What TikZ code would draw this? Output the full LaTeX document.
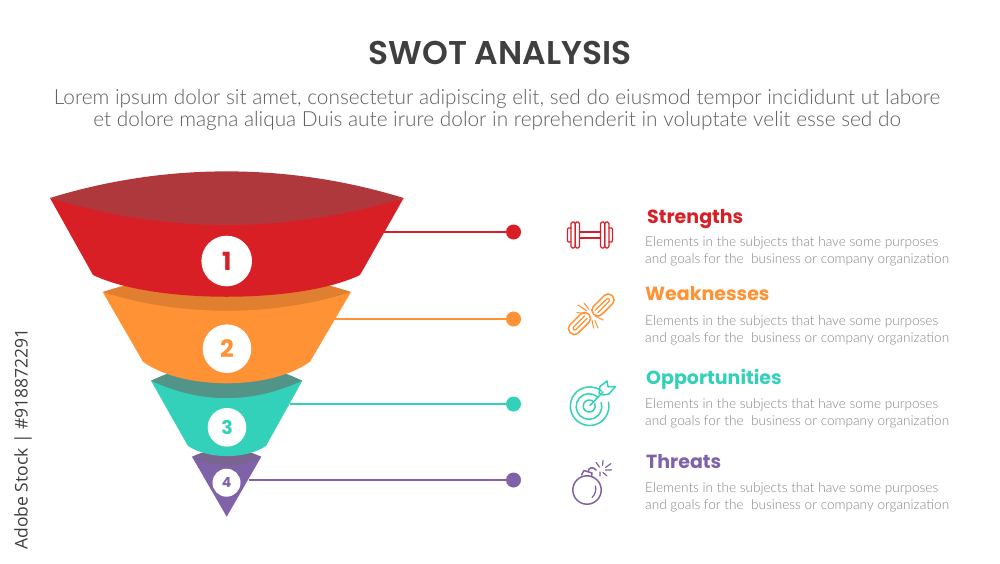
\documentclass[tikz,border=0pt]{standalone}
\usepackage{fontspec}
\newfontfamily\popf{Poppins}
\newfontfamily\popt{Poppins SemiBold}
\newfontfamily\latof{Lato Light}
\newfontfamily\sidef{Open Sans}
\definecolor{cred}{HTML}{D91F26}\definecolor{dred}{HTML}{AF383D}
\definecolor{corg}{HTML}{FF9234}\definecolor{dorg}{HTML}{E07F2F}
\definecolor{cteal}{HTML}{33D1B9}\definecolor{dteal}{HTML}{529488}
\definecolor{cpur}{HTML}{7F62A8}\definecolor{dpur}{HTML}{7A6490}
\definecolor{ctitle}{HTML}{3F3F3F}\definecolor{csub}{HTML}{5E5E5E}\definecolor{cbody}{HTML}{858585}
\tikzset{
 x=1pt,y=-1pt,
 badge/.style={circle,fill=white,inner sep=0pt,font=\popf\bfseries},
 dot/.style={circle,inner sep=0pt,minimum size=15pt},
 head/.style={anchor=base west,inner sep=0pt,font=\popf\bfseries\fontsize{19}{19}\selectfont},
 body/.style={anchor=north west,inner sep=0pt,align=left,text=cbody,font=\latof\fontsize{13.6}{17}\selectfont},
 icon/.style={line width=1.5pt,line cap=round,line join=round},
 link/.style={line width=1.4pt}
}
\begin{document}
\begin{tikzpicture}
\useasboundingbox (0,0) rectangle (1000,563);
\fill[white] (0,0) rectangle (1000,563);
\node[inner sep=0pt,text=ctitle,font=\popt\fontsize{32.9}{33}\selectfont] (title) at (500,52.5) {SWOT ANALYSIS};
\node[inner sep=0pt,text=csub,align=center,font=\latof\fontsize{20.8}{22}\selectfont] (sub) at (497,109.5) {Lorem ipsum dolor sit amet, consectetur adipiscing elit, sed do eiusmod tempor incididunt ut labore\\et dolore magna aliqua Duis aute irure dolor in reprehenderit in voluptate velit esse sed do};
\node[rotate=90,inner sep=0pt,text=ctitle,anchor=center,font=\sidef\fontsize{17.5}{18}\selectfont] (stock) at (23,439) {Adobe Stock | \#918872291};
% purple
\fill[dpur] (192,456.7) .. controls (215,446) and (238,446) .. (261.3,456.7) -- (226.7,480) -- cycle;
\fill[cpur] (192,456.7) .. controls (215,468.5) and (238,468.5) .. (261.3,456.7) -- (226.7,516.7) -- cycle;
% teal
\fill[dteal] (151,380.7) .. controls (200,357) and (253,357) .. (302.3,380.7) -- (227,430) -- cycle;
\fill[cteal] (151,380.7) .. controls (200,404) and (253,404) .. (302.3,380.7) -- (266,446) .. controls (245,459.5) and (209,459.5) .. (188,446) -- cycle;
% orange
\fill[dorg] (102.7,292) .. controls (180,266) and (273,266) .. (351,292) -- (227,350) -- cycle;
\fill[corg] (102.7,292) .. controls (180,317) and (273,317) .. (351,292) -- (310,361.7) .. controls (270,390.5) and (183,390.5) .. (143,361.7) -- cycle;
% red
\fill[dred] (50,198) .. controls (165,162.5) and (288,162.5) .. (403.7,198) -- (227,260) -- cycle;
\fill[cred] (50,198) .. controls (165,234) and (288,234) .. (403.7,198) -- (360,275) .. controls (300,304) and (153,304) .. (93,275) -- cycle;
% badges
\node[badge,minimum size=50.6pt,text=cred,font=\popf\bfseries\fontsize{25}{25}\selectfont] (b1) at (226.7,261) {1};
\node[badge,minimum size=48.6pt,text=corg,font=\popf\bfseries\fontsize{24}{24}\selectfont] (b2) at (227,348.7) {2};
\node[badge,minimum size=38.6pt,text=cteal,font=\popf\bfseries\fontsize{19}{19}\selectfont] (b3) at (227,427.3) {3};
\node[badge,minimum size=28pt,text=cpur,font=\popf\bfseries\fontsize{14}{14}\selectfont] (b4) at (226.5,482.7) {4};
% connectors
\coordinate (s1) at (384,232);\coordinate (s2) at (335,319);\coordinate (s3) at (290,404);\coordinate (s4) at (249,480);
\node[dot,fill=cred] (d1) at (513.5,232) {};
\node[dot,fill=corg] (d2) at (513.5,319) {};
\node[dot,fill=cteal] (d3) at (513.5,404) {};
\node[dot,fill=cpur] (d4) at (513.5,480) {};
\draw[link,cred] (s1) -- (d1);
\draw[link,corg] (s2) -- (d2);
\draw[link,cteal] (s3) -- (d3);
\draw[link,cpur] (s4) -- (d4);
% texts
\node[head,text=cred] (h1) at (647,223) {Strengths};
\node[head,text=corg] (h2) at (645,300) {Weaknesses};
\node[head,text=cteal] (h3) at (646,384) {Opportunities};
\node[head,text=cpur] (h4) at (646,468) {Threats};
\node[body] (t1) at (645,236.5) {Elements in the subjects that have some purposes\\and goals for the\ \ business or company organization};
\node[body] (t2) at (645,315.5) {Elements in the subjects that have some purposes\\and goals for the\ \ business or company organization};
\node[body] (t3) at (645,398.5) {Elements in the subjects that have some purposes\\and goals for the\ \ business or company organization};
\node[body] (t4) at (645,482.5) {Elements in the subjects that have some purposes\\and goals for the\ \ business or company organization};
% dumbbell
\begin{scope}[icon,cred,line width=1.3pt]
\draw[rounded corners=1.5pt] (571,222) rectangle (575.3,248);
\draw[rounded corners=1.5pt] (575.3,222) rectangle (579.5,248);
\draw[rounded corners=1pt] (571,228) -- (567.5,228) -- (567.5,242) -- (571,242);
\draw (579.5,232) -- (600.5,232) (579.5,238) -- (600.5,238);
\draw[rounded corners=1.5pt] (600.5,222) rectangle (604.7,248);
\draw[rounded corners=1.5pt] (604.7,222) rectangle (609,248);
\draw[rounded corners=1pt] (609,228) -- (612.5,228) -- (612.5,242) -- (609,242);
\end{scope}
% broken chain
\begin{scope}[icon,corg]
\begin{scope}[shift={(603,305)},rotate=45]
\draw[rounded corners=5.2pt] (-13,-5.8) rectangle (13,5.8);
\draw[rounded corners=2pt,line width=1.2pt] (-9,-1.8) -- (8.5,-1.8) -- (8.5,1.8) -- (-9,1.8);
\end{scope}
\begin{scope}[shift={(579.5,323.5)},rotate=45]
\draw[rounded corners=5.2pt] (-13,-5.8) rectangle (13,5.8);
\draw[rounded corners=2pt,line width=1.2pt] (9,-1.8) -- (-8.5,-1.8) -- (-8.5,1.8) -- (9,1.8);
\end{scope}
\draw[line width=1pt] (578,305) -- (587,311) (584,303) -- (589,309.5) (577,312.5) -- (585,313.5)
 (595,316) -- (603,320) (595,320.5) -- (598,328) (592,320) -- (593.5,328);
\end{scope}
% target
\begin{scope}[icon,cteal]
\draw (601.5,391) arc[start angle=-52,end angle=-372,radius=19.3];
\draw (597.5,397) arc[start angle=-48,end angle=-378,radius=12.8];
\draw (593.7,402) arc[start angle=-42,end angle=-382,radius=6];
\draw (590,405.5) -- (603,392);
\draw[line join=round] (599,393.5) -- (600,386.5) -- (607,381) -- (608,386.8) -- (615.5,386.5) -- (609,394) -- (603,395) -- cycle;
\end{scope}
% bomb
\begin{scope}[icon,cpur]
\draw (587,490) circle[radius=14.2];
\draw (581.5,475) -- (584,470.5) -- (592,473) -- (591.5,476.5);
\draw (588,471.5) .. controls (589,467) and (593,466.5) .. (596,470);
\draw[line width=1.2pt] (596,462.5) -- (599.5,467) (603,460.5) -- (602.5,465.5) (611,463.5) -- (605.5,467.5) (611.5,470) -- (605.5,470) (607,476) -- (603,472.5) (600,476) -- (600,472);
\draw[line width=1.2pt] (595.5,486) .. controls (596.5,490) and (595,495) .. (592,497.5);
\end{scope}
\end{tikzpicture}
\end{document}
